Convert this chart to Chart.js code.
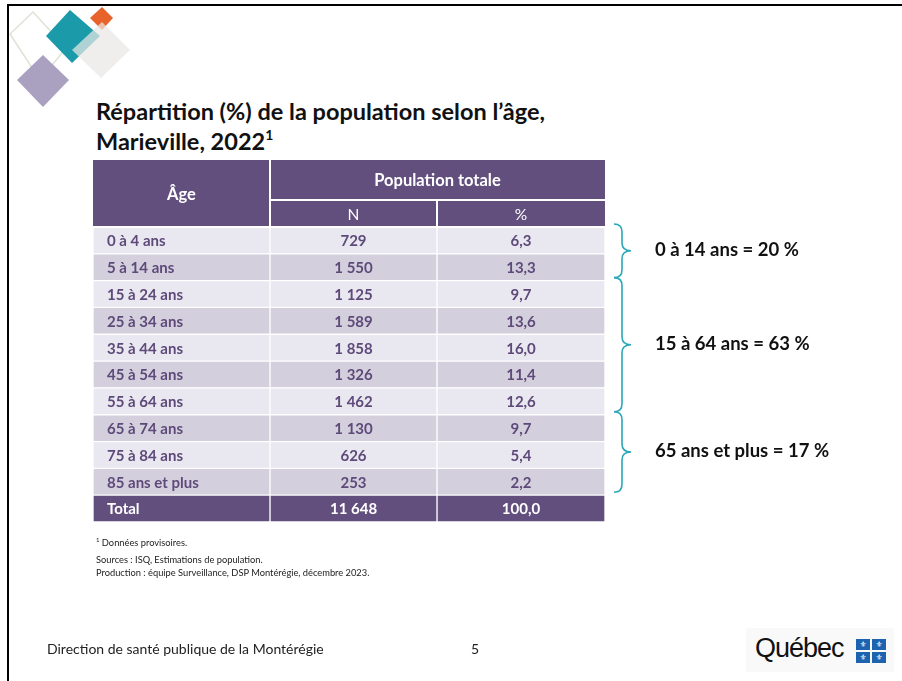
<!DOCTYPE html>
<html><head><meta charset="utf-8">
<script src="https://cdn.jsdelivr.net/npm/chart.js@4/dist/chart.umd.min.js"></script>
<style>
html,body{margin:0;padding:0;background:#fff;}
body{width:902px;height:681px;position:relative;overflow:hidden;font-family:Lato,"Open Sans",sans-serif;color:#111;}
#c{position:absolute;left:0;top:0;}
.bt{position:absolute;left:7px;top:4px;width:895px;height:2px;background:#000;}
.bl{position:absolute;left:7px;top:4px;width:2px;height:677px;background:#000;}
#deco{position:absolute;left:0;top:0;}
.title{position:absolute;left:96px;top:96px;font-weight:bold;font-size:23.5px;line-height:30px;color:#111;white-space:nowrap;}
.title sup{font-size:14px;vertical-align:10px;line-height:0;}
.note{position:absolute;left:96px;font-size:9.3px;color:#222;white-space:nowrap;}
.note sup{font-size:6px;vertical-align:4px;line-height:0;}
.foot{position:absolute;top:640px;font-size:14px;color:#222;white-space:nowrap;}
.logo{position:absolute;left:746px;top:628px;width:148px;height:44px;background:#faf9f9;}
.logo .q{position:absolute;left:9px;top:5px;font-family:"Liberation Sans Narrow","Liberation Sans",sans-serif;font-size:27px;letter-spacing:-1px;color:#111;}
.flag{position:absolute;left:110px;top:11px;width:31px;height:25px;}
.flag div{position:absolute;width:14px;height:11px;background:#1e63b0;color:#fff;font-size:8px;line-height:11px;text-align:center;font-family:"DejaVu Sans",sans-serif;}
</style></head>
<body>
<div class="bt"></div><div class="bl"></div>
<svg id="deco" width="150" height="115">
  <polygon points="33,12 66,48 40,80 10,34" fill="none" stroke="#dfe3d6" stroke-width="1.5"/>
  <polygon points="70,10 100,36 72,63 46,36" fill="#1b9aa9"/>
  <polygon points="102,7 113,18 102,30 90,18" fill="#e8632b"/>
  <polygon points="102,22 130,50 101,78 72,50" fill="rgba(233,231,229,0.72)"/>
  <polygon points="43,55 69,80 43,107 17,80" fill="#aaa0c0"/>
</svg>
<div class="title">Répartition (%) de la population selon l’âge,<br>Marieville, 2022<sup>1</sup></div>
<canvas id="c" width="902" height="681"></canvas>
<div class="note" style="top:537px"><sup>1</sup> Données provisoires.</div>
<div class="note" style="top:554px">Sources : ISQ, Estimations de population.</div>
<div class="note" style="top:567px">Production : équipe Surveillance, DSP Montérégie,  décembre  2023.</div>
<div class="foot" style="left:47px">Direction de santé publique de la Montérégie</div>
<div class="foot" style="left:471px">5</div>
<div class="logo"><div class="q">Québec</div>
  <div class="flag">
    <div style="left:0;top:0">⚜</div><div style="left:16px;top:0">⚜</div>
    <div style="left:0;top:13px">⚜</div><div style="left:16px;top:13px">⚜</div>
  </div>
</div>
<script>
// ---- data ----
const ageLabels = ['0 à 4 ans','5 à 14 ans','15 à 24 ans','25 à 34 ans','35 à 44 ans','45 à 54 ans','55 à 64 ans','65 à 74 ans','75 à 84 ans','85 ans et plus'];
const nValues = [729, 1550, 1125, 1589, 1858, 1326, 1462, 1130, 626, 253];
const pctValues = [6.3, 13.3, 9.7, 13.6, 16.0, 11.4, 12.6, 9.7, 5.4, 2.2];
const totalLabel = 'Total';
const totalN = 11648;
const totalPct = 100.0;
const headerAge = 'Âge';
const headerGroup = 'Population totale';
const headerN = 'N';
const headerPct = '%';
const groupLabels = ['0 à 14 ans', '15 à 64 ans', '65 ans et plus'];
const groupPct = [20, 63, 17];
const groupFirstRow = [0, 2, 7];
const groupLastRow = [1, 6, 9];

// ---- layout / style ----
const colEdges = [0, 0.3457, 0.6719, 1];
const HEADER = '#624f7e', LIGHT = '#e9e7ef', DARK = '#d4cfdc', TXT = '#5e4a7a', TEAL = '#2aa8b8';
const FONT = 'Lato, "Open Sans", sans-serif';

const rowLabels = ageLabels.concat([totalLabel]);
const nCol = nValues.concat([totalN]);
const pCol = pctValues.concat([totalPct]);
const fmtN = n => String(n).replace(/\B(?=(\d{3})+(?!\d))/g, ' ');
const fmtP = v => v.toFixed(1).replace('.', ',');
function rowColor(ctx){ const i = ctx.dataIndex; if (i === rowLabels.length - 1) return HEADER; return i % 2 ? DARK : LIGHT; }

const datasets = [0,1,2].map(c => ({
  label: 'col' + c,
  data: rowLabels.map(() => [colEdges[c], colEdges[c+1]]),
  backgroundColor: rowColor, borderColor: '#ffffff', borderWidth: 1, borderSkipped: false,
  grouped: false, barPercentage: 1, categoryPercentage: 1
}));

const tablePlugin = {
  id: 'tableText',
  afterDatasetsDraw(chart){
    const ctx = chart.ctx, ca = chart.chartArea, xs = chart.scales.x, ys = chart.scales.y;
    const X = colEdges.map(e => xs.getPixelForValue(e));
    const top = ca.top - 67, mid = top + 40;
    ctx.save();
    // header
    ctx.fillStyle = HEADER; ctx.fillRect(X[0], top, X[3]-X[0], ca.top - top);
    ctx.fillStyle = '#fff';
    ctx.fillRect(X[1]-1, top, 2, ca.top - top);
    ctx.fillRect(X[1], mid-1, X[3]-X[1], 2);
    ctx.fillRect(X[2]-1, mid, 2, ca.top - mid);
    ctx.fillRect(X[0], ca.top-1, X[3]-X[0], 2);
    ctx.textBaseline = 'middle'; ctx.textAlign = 'center';
    ctx.font = 'bold 16.5px ' + FONT;
    ctx.fillText(headerAge, (X[0]+X[1])/2, (top+ca.top)/2 + 1);
    ctx.fillText(headerGroup, (X[1]+X[3])/2, (top+mid)/2 + 1);
    ctx.font = '15.5px ' + FONT;
    ctx.fillText(headerN, (X[1]+X[2])/2, (mid+ca.top)/2 + 1);
    ctx.fillText(headerPct, (X[2]+X[3])/2, (mid+ca.top)/2 + 1);
    // cells
    ctx.font = 'bold 15px ' + FONT;
    rowLabels.forEach((lab, i) => {
      const y = ys.getPixelForValue(i) + 1;
      ctx.fillStyle = (i === rowLabels.length - 1) ? '#fff' : TXT;
      ctx.textAlign = 'left'; ctx.fillText(lab, X[0] + 14, y);
      ctx.textAlign = 'center';
      ctx.fillText(fmtN(nCol[i]), (X[1]+X[2])/2, y);
      ctx.fillText(fmtP(pCol[i]), (X[2]+X[3])/2, y);
    });
    // braces
    const rowH = ys.getPixelForValue(1) - ys.getPixelForValue(0);
    groupLabels.forEach((g, k) => {
      const y0 = ys.getPixelForValue(groupFirstRow[k]) - rowH/2 - 3;
      const y1 = ys.getPixelForValue(groupLastRow[k]) + rowH/2 - 3;
      const ym = (y0 + y1)/2;
      const xa = X[3] + 9, xb = xa + 8, xc = xb + 9, r = 8;
      ctx.strokeStyle = TEAL; ctx.lineWidth = 1.6;
      ctx.beginPath();
      ctx.moveTo(xa, y0);
      ctx.quadraticCurveTo(xb, y0, xb, y0 + r);
      ctx.lineTo(xb, ym - r);
      ctx.quadraticCurveTo(xb, ym, xc, ym);
      ctx.quadraticCurveTo(xb, ym, xb, ym + r);
      ctx.lineTo(xb, y1 - r);
      ctx.quadraticCurveTo(xb, y1, xa, y1);
      ctx.stroke();
      ctx.fillStyle = '#111'; ctx.textAlign = 'left';
      ctx.font = 'bold 18.5px ' + FONT;
      ctx.fillText(g + ' = ' + groupPct[k] + ' %', X[3] + 50, ym - 1);
    });
    ctx.restore();
  }
};

new Chart(document.getElementById('c'), {
  type: 'bar',
  data: { labels: rowLabels, datasets },
  options: {
    indexAxis: 'y', responsive: false, animation: false,
    layout: { padding: { left: 93, right: 297, top: 227, bottom: 159 } },
    plugins: { legend: { display: false }, tooltip: { enabled: false } },
    scales: {
      x: { type: 'linear', min: 0, max: 1, display: false },
      y: { type: 'category', display: false }
    }
  },
  plugins: [tablePlugin]
});
</script>
</body></html>
